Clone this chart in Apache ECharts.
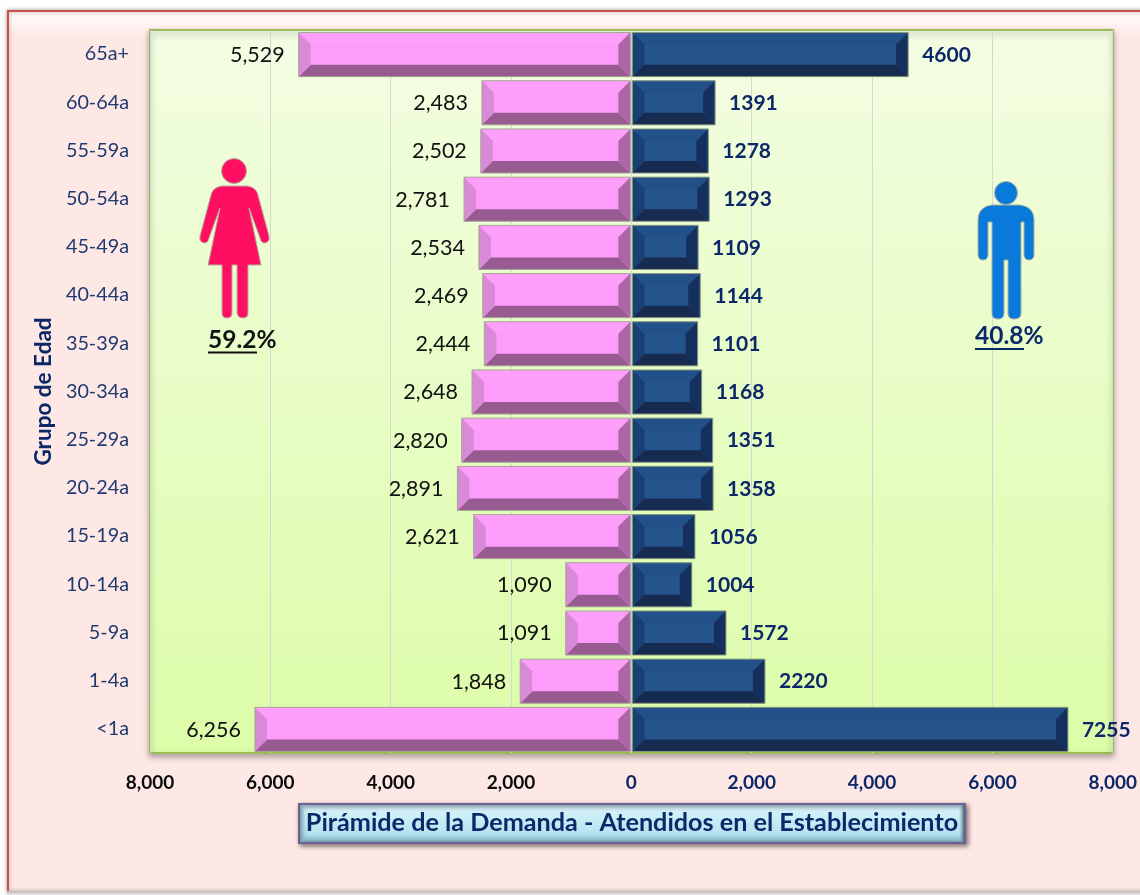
<!DOCTYPE html>
<html><head><meta charset="utf-8"><style>html,body{margin:0;padding:0;background:#fff}#c{width:1140px;height:895px}</style>
<script src="https://cdn.jsdelivr.net/npm/echarts@6/dist/echarts.min.js"></script></head>
<body><div id="c"></div><script>
const ageGroups=['<1a','1-4a','5-9a','10-14a','15-19a','20-24a','25-29a','30-34a','35-39a','40-44a','45-49a','50-54a','55-59a','60-64a','65a+'];
const women=[6256,1848,1091,1090,2621,2891,2820,2648,2444,2469,2534,2781,2502,2483,5529];
const men=[7255,2220,1572,1004,1056,1358,1351,1168,1101,1144,1109,1293,1278,1391,4600];
const F='Lato, Carlito, sans-serif';
const NAVY='#0d2868';
function bevel(colors,isLeft){return function(p,api){
  const cat=api.value(0),v=api.value(1);
  const a=api.coord([0,cat]),b=api.coord([v,cat]);
  const h=api.size([0,1])[1]*0.915,t=a[1]-h/2+0.5,bt=a[1]+h/2+0.5;
  const x0=a[0]+(isLeft?-1:1),x1=b[0],s=isLeft?-1:1,bv=12,bb=12,bTop=12;
  const poly=(pts,fill)=>({type:'polygon',shape:{points:pts},style:{fill}});
  const label=isLeft?api.value(1)*-1:api.value(1);
  return {type:'group',children:[
    poly([[x0,t],[x1,t],[x1,bt],[x0,bt]],colors.main),
    poly([[x0,t],[x1,t],[x1-s*bv,t+bTop],[x0+s*bv,t+bTop]],colors.top),
    poly([[x0,bt],[x1,bt],[x1-s*bv,bt-bb],[x0+s*bv,bt-bb]],colors.bottom),
    poly([[x0,t],[x0+s*bv,t+bTop],[x0+s*bv,bt-bb],[x0,bt]],colors.inner),
    poly([[x1,t],[x1-s*bv,t+bTop],[x1-s*bv,bt-bb],[x1,bt]],colors.outer),
    {type:'rect',shape:{x:Math.min(x0,x1),y:t,width:Math.abs(x1-x0),height:h},style:{fill:'none',stroke:colors.edge,lineWidth:1}},
    {type:'text',style:{x:x1+s*14,y:a[1]+1,
      text:isLeft?label.toLocaleString('en-US'):String(label),
      align:isLeft?'right':'left',verticalAlign:'middle',
      font:(isLeft?'normal 21.5px ':'bold 21px ')+F,fill:isLeft?'#111':NAVY}}
  ]};
};}
// outline helper: straight segments and quadratic corners to a polygon
function outline(cmds){
  const pts=[];
  cmds.forEach(c=>{
    if(c.length===2){pts.push(c);return;}
    const p0=pts[pts.length-1];
    for(let k=1;k<=6;k++){const u=k/6,w=1-u;
      pts.push([w*w*p0[0]+2*w*u*c[0]+u*u*c[2],w*w*p0[1]+2*w*u*c[1]+u*u*c[3]]);}
  });
  return pts;
}
const femaleIcon=outline([[222,186],[247,186],[256,187,258,195],[269,236],[270,242,265,243],[261,243,260,238],[249,208],[261,265],[248,265],[248,313],[248,318,243,318],[238,318,237,313],[237,265],[232,265],[232,313],[232,318,227,318],[222,318,222,313],[222,265],[208,265],[220,208],[209,238],[208,243,204,243],[199,242,200,236],[211,195],[213,187,222,186]]);
const maleIcon=outline([[992,205],[1020,205],[1034,207,1034,220],[1034,254],[1034,260,1029,260],[1024,260,1024,254],[1024,222],[1021,222],[1021,313],[1021,319,1014,319],[1008,319,1008,313],[1008,260],[1004,260],[1004,313],[1004,319,998,319],[992,319,992,313],[992,222],[988,222],[988,254],[988,260,983,260],[978,260,978,254],[978,220],[978,207,992,205]]);
const sideFade=(c0,c1)=>({type:'linear',x:0,y:0,x2:1,y2:0,colorStops:[{offset:0,color:c0},{offset:1,color:c1}]});
const chart=echarts.init(document.getElementById('c'),null,{renderer:'canvas'});
chart.setOption({
  animation:false,
  backgroundColor:'#fff',
  grid:{left:150,right:27,top:30,bottom:142,show:false},
  xAxis:{type:'value',min:-8000,max:8000,interval:2000,
    axisLine:{show:false},axisTick:{show:false},
    splitLine:{show:true,lineStyle:{color:'#d4d8d0',width:1}},
    axisLabel:{margin:20,color:v=>v<0?'#0a0a0a':NAVY,fontFamily:F,fontWeight:'bold',fontSize:19,
      formatter:v=>Math.abs(v).toLocaleString('en-US')}},
  yAxis:{type:'category',data:ageGroups,
    axisLine:{show:false},axisTick:{show:false},
    axisLabel:{margin:21,color:'#1f3a70',fontFamily:F,fontSize:19.8,padding:[4,0,0,0]},
    name:'Grupo de Edad',nameLocation:'middle',nameGap:92,nameRotate:90,
    nameTextStyle:{color:NAVY,fontFamily:F,fontWeight:'bold',fontSize:22.5}},
  series:[
    {type:'custom',name:'Mujeres',z:5,renderItem:bevel({main:'#fe9cfb',top:'#fea0fb',bottom:'#975b92',inner:'#ad65a8',outer:'#d98ad6',edge:'#a3a890'},true),
     data:women.map((v,i)=>[i,-v]),encode:{x:1,y:0}},
    {type:'custom',name:'Hombres',z:5,renderItem:bevel({main:'#25538c',top:'#225089',bottom:'#172a50',inner:'#1a3f75',outer:'#15305e',edge:'#8a9a80'},false),
     data:men.map((v,i)=>[i,v]),encode:{x:1,y:0}}
  ],
  graphic:[
    {type:'rect',z:-10,silent:true,shape:{x:8,y:11,width:1140,height:881},style:{fill:{type:'linear',x:0,y:0,x2:0,y2:1,colorStops:[{offset:0,color:'#fffafa'},{offset:0.012,color:'#fff6f4'},{offset:0.03,color:'#fee8e5'},{offset:1,color:'#fee8e5'}]},stroke:'#c9504c',lineWidth:2,shadowBlur:4,shadowColor:'rgba(0,0,0,0.35)'}},
    {type:'rect',z:-8,silent:true,shape:{x:7,y:891,width:1133,height:4},style:{fill:{type:'linear',x:0,y:0,x2:0,y2:1,colorStops:[{offset:0,color:'#bdb6b4'},{offset:1,color:'#eeeaea'}]}}},
    {type:'rect',z:-7,silent:true,shape:{x:150,y:30,width:963,height:723},style:{fill:{type:'linear',x:0,y:0,x2:0,y2:1,colorStops:[{offset:0,color:'#f3fde3'},{offset:1,color:'#dcfda8'}]},stroke:'#9bbb59',lineWidth:2,shadowBlur:6,shadowColor:'rgba(0,0,0,0.3)',shadowOffsetY:3}},
    {type:'polygon',z:6,silent:true,shape:{points:femaleIcon},style:{fill:'#ff0f62',stroke:'#b8b0a0',lineWidth:1}},
    {type:'circle',z:6,silent:true,shape:{cx:234,cy:171,r:12.5},style:{fill:'#ff0f62',stroke:'#b8b0a0',lineWidth:1}},
    {type:'polygon',z:6,silent:true,shape:{points:maleIcon},style:{fill:'#0a7ada',stroke:'#a8b0a0',lineWidth:1}},
    {type:'circle',z:6,silent:true,shape:{cx:1006,cy:193,r:11.5},style:{fill:'#0a7ada',stroke:'#a8b0a0',lineWidth:1}},
    {type:'text',z:7,silent:true,style:{x:208,y:340,text:'59.2%',align:'left',verticalAlign:'middle',font:'bold 24.5px '+F,fill:'#111'}},
    {type:'line',z:7,silent:true,shape:{x1:208,y1:352.5,x2:257,y2:352.5},style:{stroke:'#111',lineWidth:2}},
    {type:'text',z:7,silent:true,style:{x:975,y:336,text:'40.8%',align:'left',verticalAlign:'middle',font:'bold 24.5px '+F,fill:NAVY}},
    {type:'line',z:7,silent:true,shape:{x1:975,y1:349,x2:1024,y2:349},style:{stroke:NAVY,lineWidth:2}},
    {type:'rect',z:7,silent:true,shape:{x:299,y:804,width:666,height:39},style:{fill:{type:'linear',x:0,y:0,x2:0,y2:1,colorStops:[{offset:0,color:'#7fb0c6'},{offset:0.14,color:'#d7f4fb'},{offset:0.75,color:'#b4e2f0'},{offset:0.9,color:'#8fc0cc'},{offset:1,color:'#5f8f9f'}]},stroke:'#6f5f96',lineWidth:2,shadowBlur:5,shadowColor:'rgba(0,0,0,0.5)',shadowOffsetX:2,shadowOffsetY:2}},
    {type:'rect',z:7,silent:true,shape:{x:300,y:805,width:6,height:37},style:{fill:sideFade('#6f9aaa','rgba(180,226,240,0)')}},
    {type:'rect',z:7,silent:true,shape:{x:958,y:805,width:6,height:37},style:{fill:sideFade('rgba(180,226,240,0)','#4a6a78')}},
    {type:'text',z:8,silent:true,style:{x:632,y:823,text:'Pirámide de la Demanda - Atendidos en el Establecimiento',align:'center',verticalAlign:'middle',font:'bold 25.2px '+F,fill:NAVY}}
  ]
});
</script></body></html>
